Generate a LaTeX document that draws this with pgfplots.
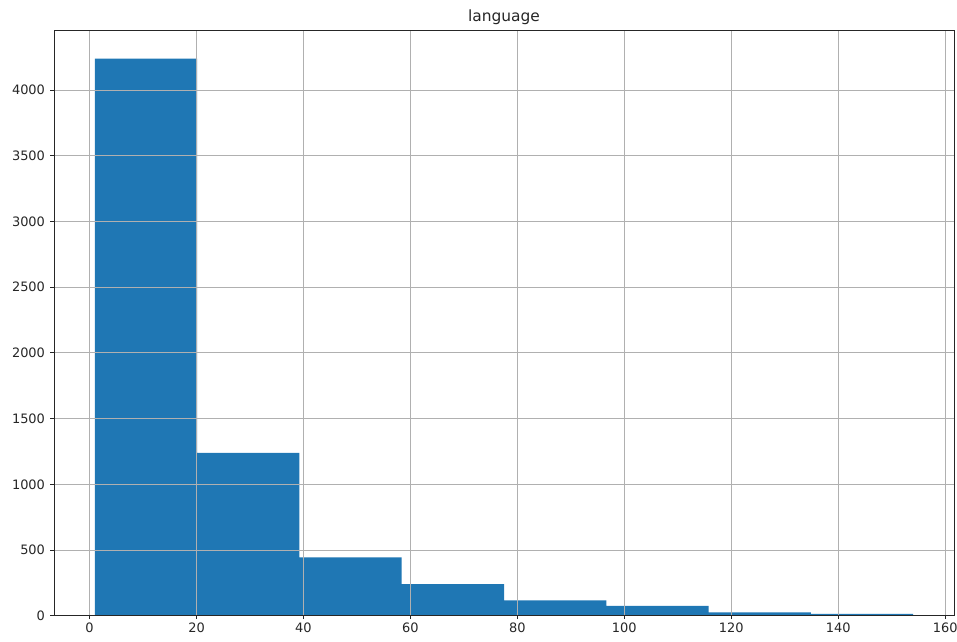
\documentclass[border=0pt]{standalone}
\usepackage{fontspec}
\setmainfont{DejaVu Sans}
\usepackage{pgfplots}
\pgfplotsset{compat=1.18}
\definecolor{mplblue}{HTML}{1F77B4}
\definecolor{gridgray}{HTML}{B0B0B0}
\begin{document}
\begin{tikzpicture}[x=1bp,y=1bp]
\path[use as bounding box] (-54,-26) rectangle (903,615.7);
\begin{axis}[
    at={(0,0)}, anchor=south west,
    scale only axis,
    width=900bp, height=585bp,
    xmin=-6.65, xmax=161.65,
    ymin=0, ymax=4452,
    xtick={0,20,...,160},
    ytick={0,500,...,4000},
    grid=major,
    major grid style={gridgray, line width=0.8bp},
    axis on top,
    axis line style={black!85, line width=0.8bp},
    tick style={black!85, line width=0.8bp},
    tick align=outside,
    major tick length=3.5bp,
    xtick pos=bottom, ytick pos=left,
    tick label style={font=\fontsize{13}{15}\selectfont, text=black!85},
    yticklabel style={xshift=-2bp},
    /pgf/number format/assume math mode=true,
    /pgf/number format/1000 sep={},
    scaled y ticks=false,
    title={\fontsize{15.5}{18}\selectfont language},
    title style={text=black!85, at={(0.5,1)}, anchor=base, yshift=3.5bp},
]
\addplot[ybar interval, fill=mplblue, draw=none] coordinates {
    (1,4240) (20.125,1240) (39.25,443) (58.375,241) (77.5,116)
    (96.625,74) (115.75,25) (134.875,13) (154,13)
};
\end{axis}
\end{tikzpicture}
\end{document}
